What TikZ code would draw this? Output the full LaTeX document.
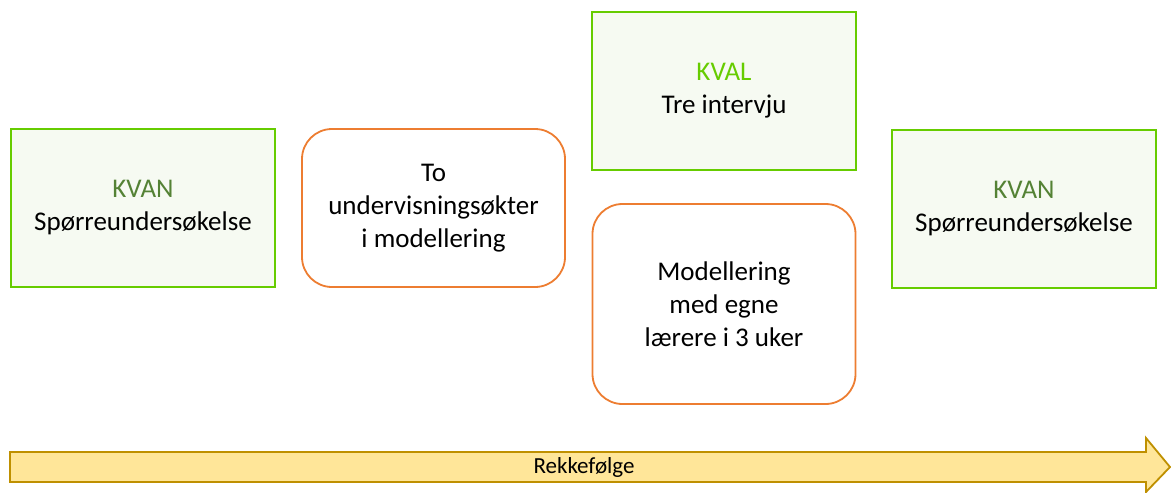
\documentclass[tikz,border=0pt]{standalone}
\usepackage{fontspec}
\setmainfont{Carlito}
\definecolor{kgreen}{HTML}{66CC00}
\definecolor{kfill}{HTML}{F6FAF2}
\definecolor{kdark}{HTML}{548235}
\definecolor{korange}{HTML}{ED7D31}
\definecolor{afill}{HTML}{FFE699}
\definecolor{aborder}{HTML}{BF9000}
\begin{document}
\begin{tikzpicture}[x=1pt,y=-1pt,
  sqbox/.style={draw=kgreen,fill=kfill,line width=2pt,minimum width=264pt,minimum height=158pt,align=center,inner sep=0pt,font=\fontsize{27}{33}\selectfont},
  rbox/.style={draw=korange,fill=white,line width=1.8pt,rounded corners=30pt,minimum width=263pt,align=center,inner sep=0pt,font=\fontsize{27}{33}\selectfont},
  seqarrow/.style={draw=aborder,fill=afill,line width=1.8pt}]
\useasboundingbox (0,0) rectangle (1171,493);
\node[sqbox] (kvan1) at (143,208) {\textcolor{kdark}{KVAN}\\Spørreundersøkelse};
\node[rbox,minimum height=158pt] (to) at (433.5,208) {To\\undervisningsøkter\\i modellering};
\node[sqbox] (kval) at (724,91) {\textcolor{kgreen}{KVAL}\\Tre intervju};
\node[rbox,minimum height=200pt] (mod) at (724,304) {Modellering\\med egne\\lærere i 3 uker};
\node[sqbox] (kvan2) at (1024,209) {\textcolor{kdark}{KVAN}\\Spørreundersøkelse};
\draw[seqarrow] (10,452) -- (1146,452) -- (1146,438) -- (1170,467) -- (1146,492) -- (1146,482) -- (10,482) -- cycle;
\node[font=\fontsize{23}{27}\selectfont] (rk) at (584,467) {Rekkefølge};
\end{tikzpicture}
\end{document}
